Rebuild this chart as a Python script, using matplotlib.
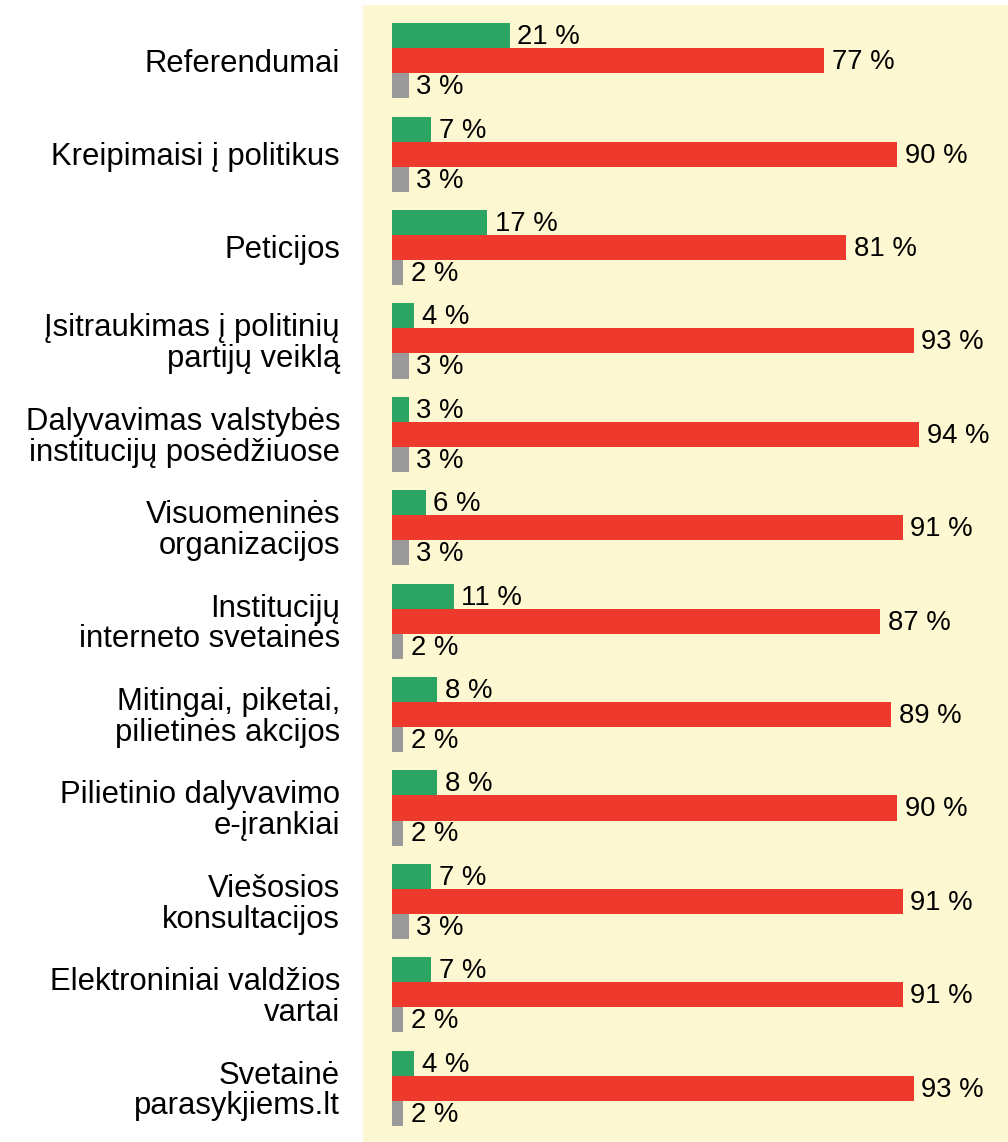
import matplotlib
matplotlib.use("Agg")
import matplotlib.pyplot as plt
import matplotlib.transforms as mtransforms
import numpy as np

plt.rcParams['font.family'] = ['Liberation Sans', 'DejaVu Sans']

categories = [
    "Referendumai",
    "Kreipimaisi į politikus",
    "Peticijos",
    "Įsitraukimas į politinių\npartijų veiklą",
    "Dalyvavimas valstybės\ninstitucijų posėdžiuose",
    "Visuomeninės\norganizacijos",
    "Institucijų\ninterneto svetainės",
    "Mitingai, piketai,\npilietinės akcijos",
    "Pilietinio dalyvavimo\ne-įrankiai",
    "Viešosios\nkonsultacijos",
    "Elektroniniai valdžios\nvartai",
    "Svetainė\nparasykjiems.lt",
]
green_vals = [21, 7, 17, 4, 3, 6, 11, 8, 8, 7, 7, 4]
red_vals = [77, 90, 81, 93, 94, 91, 87, 89, 90, 91, 91, 93]
gray_vals = [3, 3, 2, 3, 3, 3, 2, 2, 2, 3, 2, 2]

W, H = 1008, 1142
fig = plt.figure(figsize=(W / 100, H / 100), dpi=100)
ax = fig.add_axes([363 / W, 0, (W - 363) / W, 1 - 5 / H])
ax.set_facecolor('#fdf8d1')
for s in ax.spines.values():
    s.set_visible(False)

n = len(categories)
y = np.arange(n)
bh = 0.268
colors = ['#2ca463', '#ee3a2d', '#9a9a9a']
series = [green_vals, red_vals, gray_vals]
offsets = [-bh, 0, bh]

for vals, off, col in zip(series, offsets, colors):
    ax.barh(y + off, vals, height=bh, color=col, edgecolor='none')
    for yy, v in zip(y + off, vals):
        ax.annotate(f"{v} %", xy=(v, yy), xytext=(5.5, -1), textcoords='offset points',
                    ha='left', va='center', fontsize=19.8, color='black')

ax.set_xlim(-5.17, 109.8)
ax.set_ylim(n - 1 + 0.576, -0.597)
ax.set_xticks([])
ax.set_yticks([])

trans = mtransforms.blended_transform_factory(fig.transFigure, ax.transData)
for yy, lab in zip(y, categories):
    ax.text(340 / W, yy + 0.03, lab, transform=trans, ha='right', va='center',
            fontsize=22.3, linespacing=1.03, multialignment='right', color='black')

fig.savefig('out.png', dpi=100)
